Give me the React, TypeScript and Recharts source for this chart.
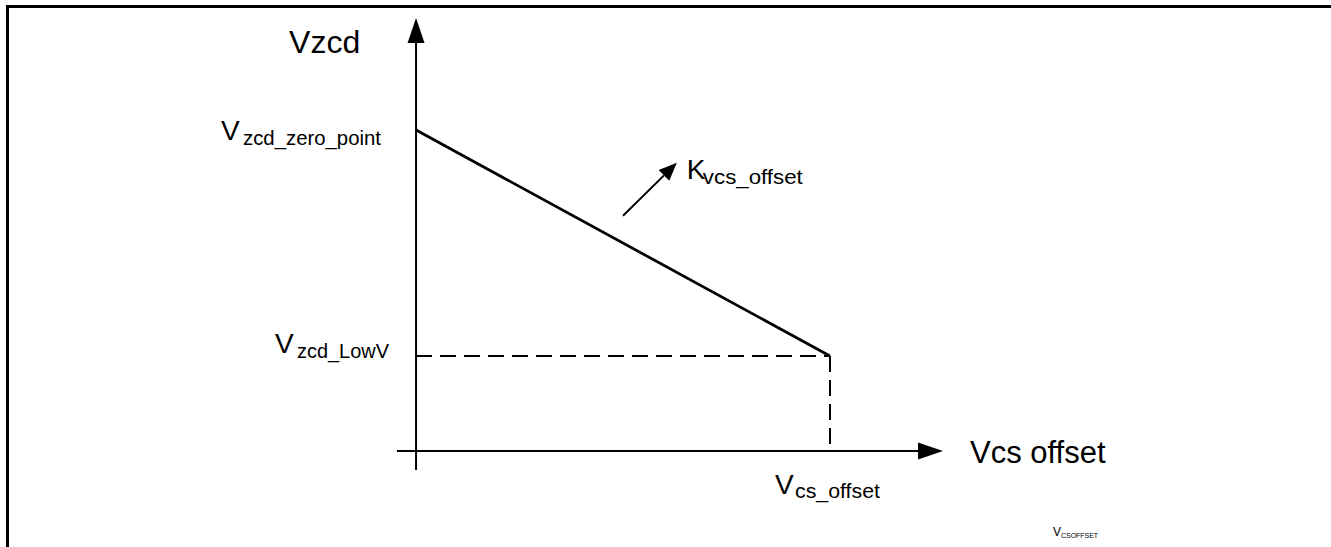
import React from 'react';
import { LineChart, Line, XAxis, YAxis, ReferenceLine } from 'recharts';

// ---- data (schematic units) ----
const vcsOffset = [0, 10]; // x values: Vcs offset
const vzcd = [10, 2.96]; // y values: Vzcd (zero point -> LowV)
const xTicks = [10];
const xTickLabels = [{ main: 'V', sub: 'cs_offset' }];
const yTicks = [2.96, 10];
const yTickLabels = [
  { main: 'V', sub: 'zcd_LowV' },
  { main: 'V', sub: 'zcd_zero_point' },
];
const slopeArrowX = [5.0, 6.3];
const slopeArrowY = [7.33, 8.98];
const slopeLabel = { main: 'K', sub: 'vcs_offset' };
const axisTitleX = 'Vcs offset';
const axisTitleY = 'Vzcd';
const captionLabel = { main: 'V', sub: 'CSOFFSET' };

const X_DOMAIN: [number, number] = [-0.46, 12.73];
const Y_DOMAIN: [number, number] = [-0.59, 13.49];

const chartData = vcsOffset.map((x, i) => ({ x, y: vzcd[i] }));

// ---- layout / style ----
const FONT = '"Liberation Sans", Arial, Helvetica, sans-serif';
const W = 1331;
const H = 547;
const Y_AXIS_W = 60;
const X_AXIS_H = 30;

const Y_TICK_LAYOUT = [
  { dx: -122, dy: -3, subDx: 22, subDy: 5, subW: 92 },
  { dx: -176, dy: 10, subDx: 22, subDy: 5, subW: 138 },
];
const X_TICK_LAYOUT = [{ dx: -55, dy: 24, subDx: 20, subDy: 4, subW: 85 }];

type SubProps = {
  x: number;
  y: number;
  main: string;
  sub: string;
  mainSize?: number;
  subSize?: number;
  subDx: number;
  subDy: number;
  subW: number;
};

const SubText = ({ x, y, main, sub, mainSize = 28, subSize = 20, subDx, subDy, subW }: SubProps) => (
  <g>
    <text x={x} y={y} fontSize={mainSize} fill="#000" fontFamily={FONT}>
      {main}
    </text>
    <text
      x={x + subDx}
      y={y + subDy}
      fontSize={subSize}
      fill="#000"
      fontFamily={FONT}
      textLength={subW}
      lengthAdjust="spacingAndGlyphs"
    >
      {sub}
    </text>
  </g>
);

const nearestIndex = (arr: number[], v: number) => {
  let best = -1;
  let bd = Infinity;
  arr.forEach((a, i) => {
    const d = Math.abs(a - Number(v));
    if (d < bd) {
      bd = d;
      best = i;
    }
  });
  return bd < 1e-6 ? best : -1;
};

const renderYTick = (props: any) => {
  const { x, y, payload } = props;
  const i = nearestIndex(yTicks, payload?.value);
  if (i < 0) return <g />;
  const l = Y_TICK_LAYOUT[i];
  const lab = yTickLabels[i];
  return (
    <SubText
      x={Number(x) + l.dx}
      y={Number(y) + l.dy}
      main={lab.main}
      sub={lab.sub}
      subDx={l.subDx}
      subDy={l.subDy}
      subW={l.subW}
    />
  );
};

const renderXTick = (props: any) => {
  const { x, y, payload } = props;
  const i = nearestIndex(xTicks, payload?.value);
  if (i < 0) return <g />;
  const l = X_TICK_LAYOUT[i];
  const lab = xTickLabels[i];
  return (
    <SubText
      x={Number(x) + l.dx}
      y={Number(y) + l.dy}
      main={lab.main}
      sub={lab.sub}
      subDx={l.subDx}
      subDy={l.subDy}
      subW={l.subW}
    />
  );
};

const makeArrow =
  (len: number, width: number, sw: number, extra?: (tx: number, ty: number) => React.ReactNode) =>
  (props: any) => {
    const { x1, y1, x2, y2 } = props;
    const dx = x2 - x1;
    const dy = y2 - y1;
    const L = Math.hypot(dx, dy) || 1;
    const ux = dx / L;
    const uy = dy / L;
    const bx = x2 - ux * len;
    const by = y2 - uy * len;
    const px = (-uy * width) / 2;
    const py = (ux * width) / 2;
    return (
      <g>
        <line x1={x1} y1={y1} x2={bx} y2={by} stroke="#000" strokeWidth={sw} />
        <polygon
          points={`${x2},${y2} ${bx + px},${by + py} ${bx - px},${by - py}`}
          fill="#000"
        />
        {extra ? extra(x2, y2) : null}
      </g>
    );
  };

const yAxisArrow = makeArrow(25, 17, 2, (tx, ty) => (
  <text x={tx - 127} y={ty + 35} fontSize={32} fill="#000" fontFamily={FONT}>
    {axisTitleY}
  </text>
));

const xAxisArrow = makeArrow(25, 17, 2, (tx, ty) => (
  <text x={tx + 27} y={ty + 12} fontSize={31} fill="#000" fontFamily={FONT}>
    {axisTitleX}
  </text>
));

const slopeArrow = makeArrow(18, 15, 2, (tx, ty) => (
  <SubText
    x={tx + 10}
    y={ty + 16}
    main={slopeLabel.main}
    sub={slopeLabel.sub}
    subDx={16}
    subDy={5}
    subW={100}
  />
));

export default function App() {
  return (
    <div
      style={{
        position: 'absolute',
        left: 0,
        top: 0,
        width: W,
        height: H,
        overflow: 'hidden',
        background: '#fff',
      }}
    >
      <div
        style={{
          position: 'absolute',
          left: 6,
          top: 5,
          width: W,
          height: H,
          borderTop: '3px solid #000',
          borderLeft: '3px solid #000',
        }}
      />
      <div style={{ position: 'absolute', left: 0, top: 0 }}>
        <LineChart
          width={W}
          height={H}
          data={chartData}
          margin={{ top: 18, right: 388, bottom: 77 - X_AXIS_H, left: 397 - Y_AXIS_W }}
        >
          <XAxis
            dataKey="x"
            type="number"
            domain={X_DOMAIN}
            allowDataOverflow
            ticks={xTicks}
            interval={0}
            height={X_AXIS_H}
            axisLine={false}
            tickLine={false}
            tickSize={0}
            tickMargin={0}
            tick={renderXTick}
          />
          <YAxis
            type="number"
            domain={Y_DOMAIN}
            allowDataOverflow
            ticks={yTicks}
            interval={0}
            width={Y_AXIS_W}
            axisLine={false}
            tickLine={false}
            tickSize={0}
            tickMargin={0}
            tick={renderYTick}
          />
          <ReferenceLine
            segment={[
              { x: 0, y: Y_DOMAIN[0] },
              { x: 0, y: Y_DOMAIN[1] },
            ]}
            ifOverflow="visible"
            shape={yAxisArrow}
          />
          <ReferenceLine
            segment={[
              { x: X_DOMAIN[0], y: 0 },
              { x: X_DOMAIN[1], y: 0 },
            ]}
            ifOverflow="visible"
            shape={xAxisArrow}
          />
          <ReferenceLine
            segment={[
              { x: vcsOffset[0], y: vzcd[1] },
              { x: vcsOffset[1], y: vzcd[1] },
            ]}
            ifOverflow="visible"
            stroke="#000"
            strokeWidth={2}
            strokeDasharray="16 8"
          />
          <ReferenceLine
            segment={[
              { x: vcsOffset[1], y: vzcd[1] },
              { x: vcsOffset[1], y: 0 },
            ]}
            ifOverflow="visible"
            stroke="#000"
            strokeWidth={2}
            strokeDasharray="16 8"
          />
          <Line
            dataKey="y"
            stroke="#000"
            strokeWidth={2.75}
            dot={false}
            activeDot={false}
            isAnimationActive={false}
          />
          <ReferenceLine
            segment={[
              { x: slopeArrowX[0], y: slopeArrowY[0] },
              { x: slopeArrowX[1], y: slopeArrowY[1] },
            ]}
            ifOverflow="visible"
            shape={slopeArrow}
          />
        </LineChart>
      </div>
      <svg
        width={W}
        height={H}
        style={{ position: 'absolute', left: 0, top: 0, pointerEvents: 'none' }}
      >
        <SubText
          x={1053}
          y={536}
          main={captionLabel.main}
          sub={captionLabel.sub}
          mainSize={12}
          subSize={8}
          subDx={8}
          subDy={1.5}
          subW={37}
        />
      </svg>
    </div>
  );
}
